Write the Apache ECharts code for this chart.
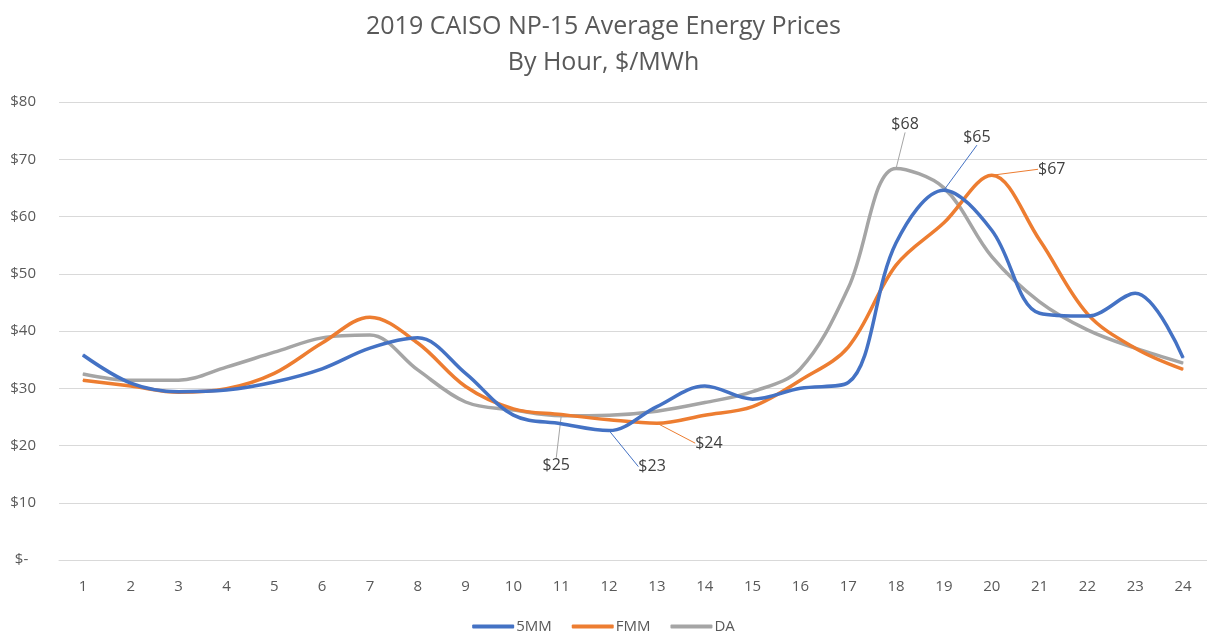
<!DOCTYPE html>
<html>
<head>
<meta charset="utf-8">
<script src="https://cdn.jsdelivr.net/npm/echarts@6/dist/echarts.min.js"></script>
<style>html,body{margin:0;padding:0;background:#fff}#c{width:1207px;height:641px}</style>
</head>
<body>
<div id="c"></div>
<script>
const hours = ['1','2','3','4','5','6','7','8','9','10','11','12','13','14','15','16','17','18','19','20','21','22','23','24'];
const mm5 = [35.8,30.9,29.4,29.7,31.1,33.4,37.0,38.8,32.6,25.3,23.8,22.6,26.8,30.4,28.1,30.0,31.0,55.4,64.6,57.6,43.1,42.6,46.6,35.3];
const fmm = [31.4,30.4,29.3,29.9,32.6,37.9,42.4,37.9,30.3,26.4,25.4,24.5,23.9,25.3,26.8,31.4,37.2,51.5,58.9,67.2,55.9,43.0,37.0,33.3];
const da  = [32.5,31.4,31.4,33.7,36.3,38.8,39.3,33.2,27.6,26.2,25.2,25.3,26.0,27.5,29.4,33.4,47.5,68.4,65.0,53.0,45.1,40.2,37.0,34.4];
const seriesNames = ['5MM','FMM','DA'];
const labeledIdx = [[11,18],[12,19],[10,17]];
const labelOffsets = {
  '0-11':[43,36], '0-18':[33,-53],
  '1-12':[52,20], '1-19':[60,-6],
  '2-10':[-5,50], '2-17':[9,-44]
};
const colors = ['#4472C4','#ED7D31','#A5A5A5'];
const vals = [mm5, fmm, da];

function buildData(arr, idxs){
  return arr.map((v,i)=> idxs.includes(i) ? {value:v, label:{show:true}} : v);
}

const chart = echarts.init(document.getElementById('c'));
chart.setOption({
  animation:false,
  backgroundColor:'#fff',
  title:{
    text:'2019 CAISO NP-15 Average Energy Prices\nBy Hour, $/MWh',
    left:'center', top:4,
    textStyle:{fontFamily:'Open Sans', fontSize:25, fontWeight:'normal', color:'#595959', lineHeight:36}
  },
  legend:{
    bottom:2, left:'center',
    icon:'roundRect', itemWidth:42, itemHeight:4, itemGap:20,
    textStyle:{fontFamily:'Open Sans', fontSize:15, color:'#595959', padding:[0,0,0,-3]},
    data:seriesNames
  },
  grid:{left:59, width:1149, top:102, height:458},
  xAxis:{
    type:'category', data:hours, boundaryGap:true,
    axisLine:{show:true, lineStyle:{color:'#D9D9D9'}},
    axisTick:{show:false},
    axisLabel:{fontFamily:'Open Sans', fontSize:15, color:'#595959', margin:19}
  },
  yAxis:{
    type:'value', min:0, max:80, interval:10,
    axisLine:{show:false}, axisTick:{show:false},
    splitLine:{lineStyle:{color:'#D9D9D9', width:1}},
    axisLabel:{fontFamily:'Open Sans', fontSize:15, color:'#595959', margin:23,
      formatter:v=> v===0 ? '$-  ' : '$'+v}
  },
  series: seriesNames.map((n,si)=>({
    name:n, type:'line', smooth:0.35,
    data: buildData(vals[si], labeledIdx[si]),
    symbol:'circle', symbolSize:1, showSymbol:true,
    color:colors[si],
    lineStyle:{width:3.5, color:colors[si]},
    itemStyle:{color:colors[si]},
    label:{show:false, position:'inside', formatter:p=>'$'+Math.round(p.value),
      fontFamily:'Open Sans', fontSize:16, color:'#404040'},
    labelLine:{show:true, lineStyle:{color:colors[si], width:1}},
    labelLayout:function(p){
      const o = labelOffsets[p.seriesIndex+'-'+p.dataIndex];
      return o ? {dx:o[0], dy:o[1]} : {};
    },
    emphasis:{disabled:true},
    z: si===0?4:(si===1?3:2)
  }))
});
</script>
</body>
</html>
